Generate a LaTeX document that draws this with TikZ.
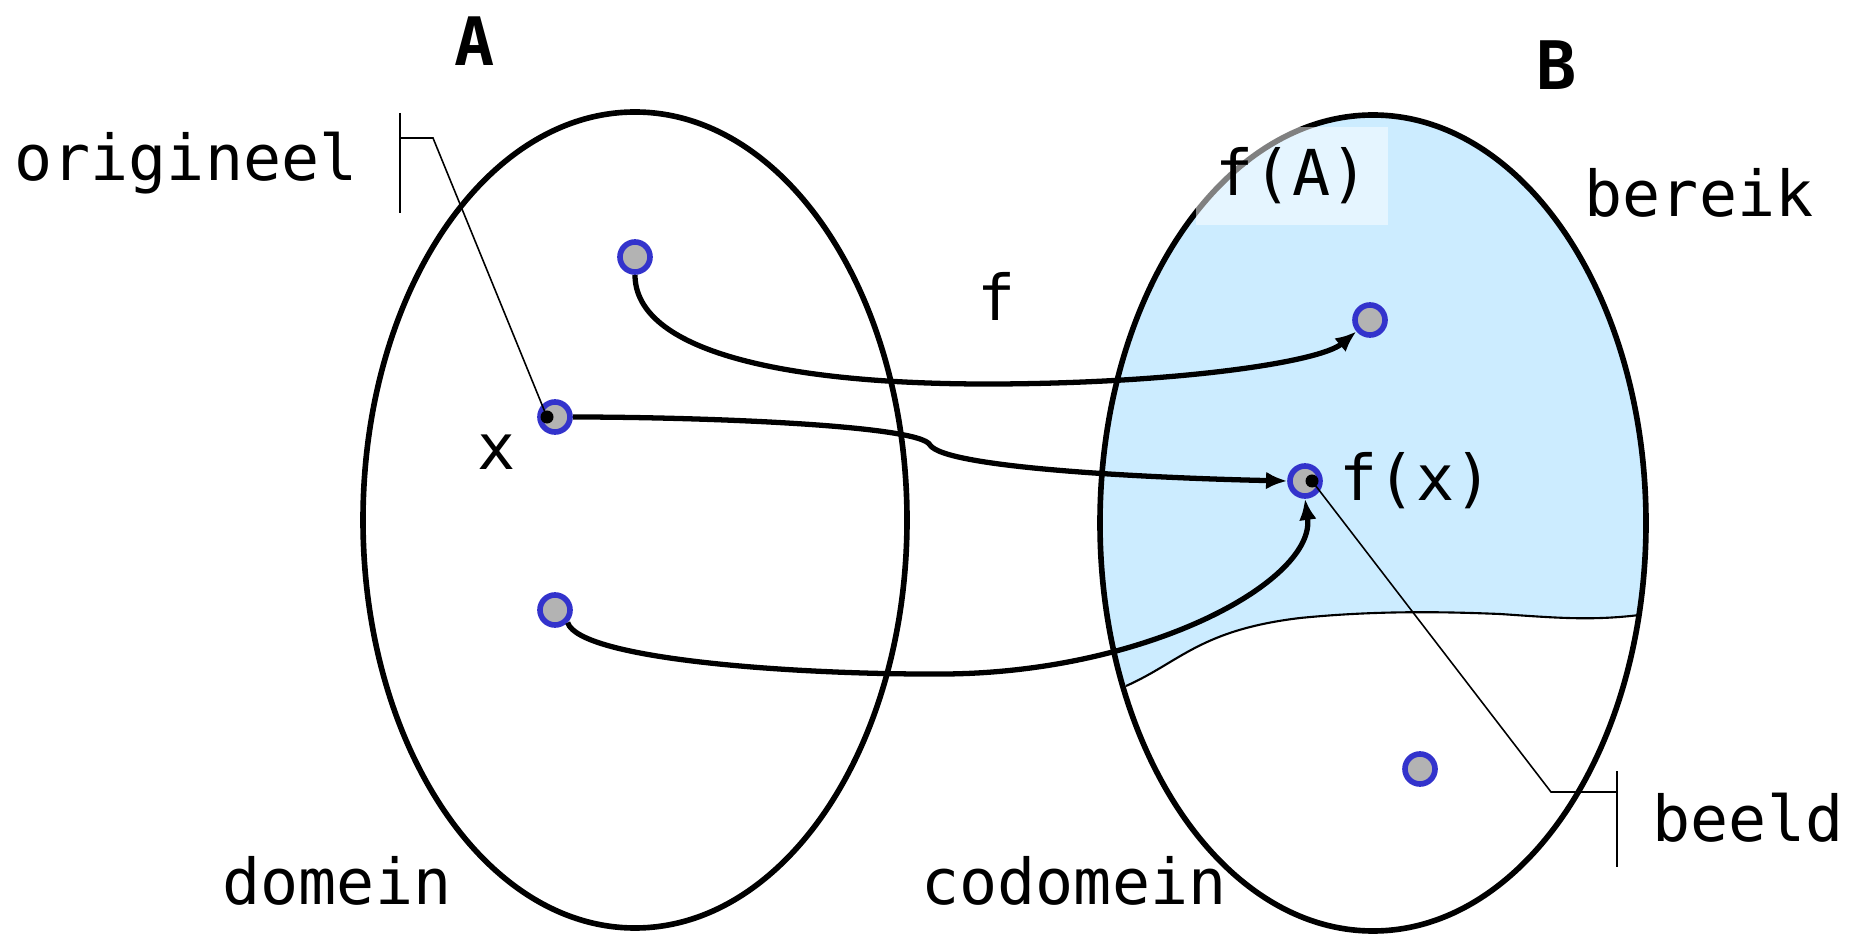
\documentclass[tikz,border=0pt]{standalone}
\usepackage{fontspec}
\setmonofont{DejaVu Sans Mono}
\usepackage{tikz}
\usetikzlibrary{arrows.meta}
\definecolor{rangefill}{RGB}{204, 236, 255}
\definecolor{elemring}{RGB}{51, 51, 204}
\definecolor{elemfill}{RGB}{179, 179, 179}
\tikzset{
  font=\ttfamily\fontsize{18}{20}\selectfont,
  setellipse/.style={draw=black, line width=1.6pt},
  elem/.style={circle, draw=elemring, fill=elemfill, line width=1.6pt,
    minimum size=0.3cm, inner sep=0pt},
  pin/.style={circle, fill=black, minimum size=0.13cm, inner sep=0pt},
  maparrow/.style={draw=black, line width=1.5pt, -{Latex[length=6pt, width=5pt]}},
  calloutline/.style={draw=black, line width=0.45pt},
  lbl/.style={inner sep=0pt}
}
\begin{document}
\begin{tikzpicture}[x=0.01cm, y=-0.01cm]
  \useasboundingbox (0,0) rectangle (1854,937);

  % range f(A) inside B
  \begin{scope}
    \clip (1373,523) ellipse [x radius=273, y radius=408];
    \fill[rangefill] (1000,90) -- (1000,690) -- (1126,686) .. controls (1180,662) and (1200,630) .. (1300,618)
      .. controls (1380,610) and (1450,612) .. (1500,614)
      .. controls (1560,618) and (1600,622) .. (1660,612) -- (1700,612) -- (1700,90) -- cycle;
    \draw[line width=0.6pt] (1126,686) .. controls (1180,662) and (1200,630) .. (1300,618)
      .. controls (1380,610) and (1450,612) .. (1500,614)
      .. controls (1560,618) and (1600,622) .. (1660,612);
  \end{scope}

  % sets A and B
  \draw[setellipse] (635,520) ellipse [x radius=272, y radius=408];
  \draw[setellipse] (1373,523) ellipse [x radius=273, y radius=408];

  % label f(A) on its pale box
  \node[lbl, fill=white, fill opacity=0.5, text opacity=1, minimum width=1.91cm,
    minimum height=0.97cm] (rangelbl) at (1292,176) {f(A)};

  % elements
  \node[elem] (a1) at (635,257) {};
  \node[elem] (ax) at (555,417) {};
  \node[elem] (a3) at (555,610) {};
  \node[elem] (b1) at (1370,320) {};
  \node[elem] (bx) at (1305,481) {};
  \node[elem] (b3) at (1420,769) {};
  \node[pin] (xpin) at (547,417) {};
  \node[pin] (fxpin) at (1312,481) {};

  % the mapping f
  \draw[maparrow] (a1.south) .. controls (635,350) and (780,385) .. (997,384)
    .. controls (1180,383) and (1320,362) .. (b1);
  \draw[maparrow] (ax.east) .. controls (700,417) and (920,425) .. (930,445)
    .. controls (945,468) and (1150,478) .. (bx.west);
  \draw[maparrow] (a3.south east) .. controls (580,660) and (800,675) .. (946,674)
    .. controls (1150,672) and (1316,580) .. (bx.south);

  % labels
  \node[lbl, font=\ttfamily\bfseries\fontsize{19}{20}\selectfont] (setA) at (475,41) {A};
  \node[lbl, font=\ttfamily\bfseries\fontsize{19}{20}\selectfont] (setB) at (1557,65) {B};
  \node[lbl] (flbl) at (997,296) {f};
  \node[lbl] (xlbl) at (497,452) {x};
  \node[lbl] (fxlbl) at (1416,481) {f(x)};
  \node[lbl] (orig) at (186,163) {origineel};
  \node[lbl] (range) at (1699,193) {bereik};
  \node[lbl] (dom) at (337,881) {domein};
  \node[lbl] (codom) at (1074,881) {codomein};
  \node[lbl] (image) at (1748,818) {beeld};

  % callouts
  \coordinate (origbar) at (400,138);
  \coordinate (origknee) at (433,138);
  \draw[calloutline] (400,113) -- (400,213);
  \draw[calloutline] (origbar) -- (origknee) -- (xpin.center);
  \coordinate (imagebar) at (1617,792);
  \coordinate (imageknee) at (1551,792);
  \draw[calloutline] (1617,771) -- (1617,867);
  \draw[calloutline] (imagebar) -- (imageknee) -- (fxpin.center);
\end{tikzpicture}
\end{document}
